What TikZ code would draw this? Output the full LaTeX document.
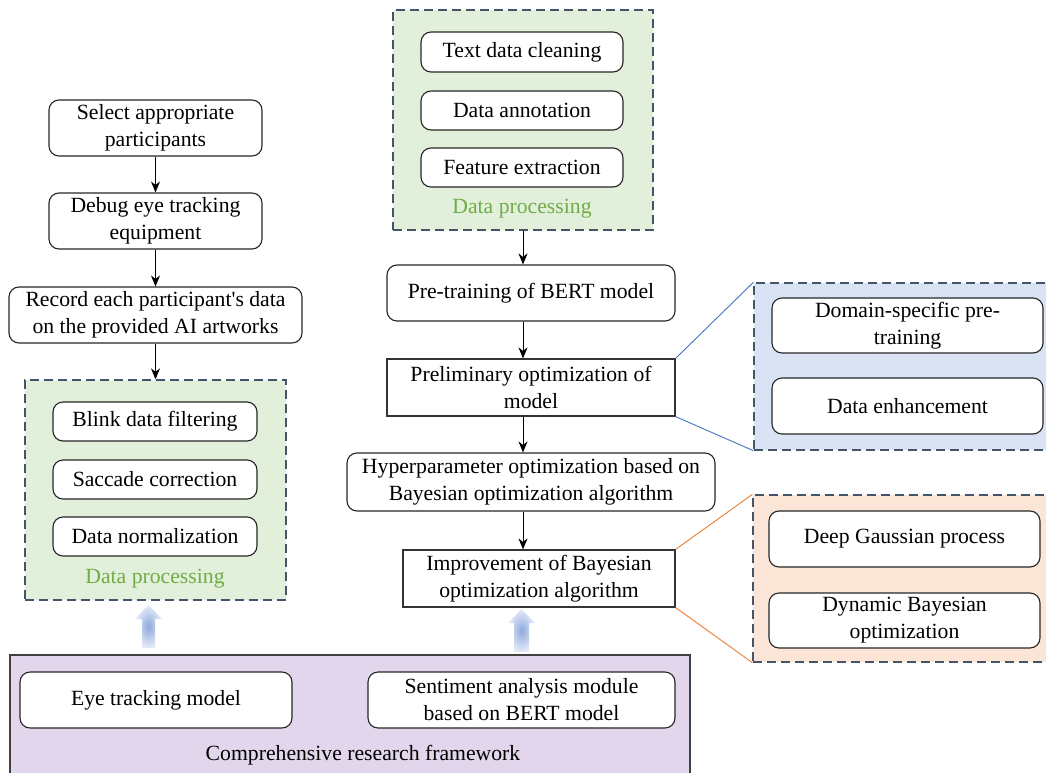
\documentclass[tikz,border=0pt]{standalone}
\usepackage{fontspec}
\setmainfont{Liberation Serif}
\usetikzlibrary{arrows.meta,shadings}
\definecolor{greenfill}{HTML}{E2EFDA}
\definecolor{greentext}{HTML}{70AD47}
\definecolor{dashcol}{HTML}{44546A}
\definecolor{bluefill}{HTML}{DAE3F3}
\definecolor{orangefill}{HTML}{FBE5D6}
\definecolor{lavfill}{HTML}{E2D6EC}
\definecolor{blueline}{HTML}{4472C4}
\definecolor{orangeline}{HTML}{ED7D31}
\definecolor{arrowin}{HTML}{8FAADC}
\definecolor{arrowout}{HTML}{E4EAF8}
\begin{document}
\begin{tikzpicture}[x=1pt,y=-1pt,
  font=\fontsize{21.7}{27}\selectfont,
  box/.style={draw=black!85, line width=1.1pt, fill=white, rounded corners=10pt, align=center, inner sep=0pt},
  sbox/.style={draw=black!80, line width=1.2pt, fill=white, align=center, inner sep=0pt},
  panel/.style={draw=dashcol, dash pattern=on 9pt off 5pt, line width=1.3pt, inner sep=0pt},
  conn/.style={-{Stealth[length=11pt,width=9pt]}, line width=0.9pt},
  lbl/.style={text=greentext, inner sep=0pt},
  blockarrow/.style={inner color=arrowin, outer color=arrowout, draw=none},
]
\useasboundingbox (0,0) rectangle (1046,773);

% ---------- left column ----------
\node[box, minimum width=213, minimum height=56] (sel) at (155.5,128) {Select appropriate\\participants};
\node[box, minimum width=213, minimum height=56] (dbg) at (155.5,221) {Debug eye tracking\\equipment};
\node[box, minimum width=293, minimum height=56] (rec) at (155.5,315) {Record each participant\textquotesingle s data\\on the provided AI artworks};

\node[panel, fill=greenfill, minimum width=261, minimum height=220] (lp) at (155.5,490) {};
\node[box, minimum width=204, minimum height=39] (blink) at (155,421.5) {Blink data filtering};
\node[box, minimum width=204, minimum height=39] (sacc) at (155,479.5) {Saccade correction};
\node[box, minimum width=204, minimum height=39] (norm) at (155,536.5) {Data normalization};
\node[lbl] (lpl) at (155,579) {Data processing};

\draw[conn] (sel) -- (dbg);
\draw[conn] (dbg) -- (rec);
\draw[conn] (rec) -- (lp);

% ---------- middle column ----------
\node[panel, fill=greenfill, minimum width=260, minimum height=220] (tp) at (523,120) {};
\node[box, minimum width=202, minimum height=40] (clean) at (522,52) {Text data cleaning};
\node[box, minimum width=202, minimum height=39] (annot) at (522,110.5) {Data annotation};
\node[box, minimum width=202, minimum height=39] (feat) at (522,167.5) {Feature extraction};
\node[lbl] (tpl) at (522,209) {Data processing};

\node[box, minimum width=288, minimum height=56] (pre) at (531,293) {Pre-training of BERT model};
\node[sbox, minimum width=288, minimum height=57] (prelim) at (531,387.5) {Preliminary optimization of\\model};
\node[box, minimum width=368, minimum height=58] (hyper) at (531,482) {Hyperparameter optimization based on\\Bayesian optimization algorithm};
\node[sbox, minimum width=272, minimum height=57] (impr) at (539,578.5) {Improvement of Bayesian\\optimization algorithm};

\coordinate (ax) at (523,0);
\draw[conn] (tp.south) -- (pre.north -| tp.south);
\draw[conn] (pre.south -| ax) -- (prelim.north -| ax);
\draw[conn] (prelim.south -| ax) -- (hyper.north -| ax);
\draw[conn] (hyper.south -| ax) -- (impr.north -| ax);

% ---------- right panels ----------
\node[panel, fill=bluefill, minimum width=300, minimum height=167] (bp) at (904,366.5) {};
\node[box, minimum width=271, minimum height=55] (dom) at (907.5,325.5) {Domain-specific pre-\\training};
\node[box, minimum width=271, minimum height=56] (enh) at (907.5,406) {Data enhancement};

\node[panel, fill=orangefill, minimum width=300, minimum height=167] (op) at (903,578.5) {};
\node[box, minimum width=271, minimum height=56] (deep) at (904.5,539) {Deep Gaussian process};
\node[box, minimum width=271, minimum height=55] (dyn) at (904.5,620.5) {Dynamic Bayesian\\optimization};

\draw[blueline, line width=0.9pt] (prelim.north east) -- (bp.north west);
\draw[blueline, line width=0.9pt] (prelim.south east) -- (bp.south west);
\draw[orangeline, line width=0.9pt] (impr.north east) -- (op.north west);
\draw[orangeline, line width=0.9pt] (impr.south east) -- (op.south west);

% ---------- bottom framework ----------
\node[draw=black!75, line width=1.3pt, fill=lavfill, minimum width=680, minimum height=140, inner sep=0pt] (fw) at (350,725) {};
\node[box, minimum width=272, minimum height=56] (eye) at (156,700) {Eye tracking model};
\node[box, minimum width=307, minimum height=56] (sent) at (521.5,700) {Sentiment analysis module\\based on BERT model};
\node[inner sep=0pt] (fwl) at (363,755) {Comprehensive research framework};

% ---------- block arrows ----------
\shade[blockarrow] (148.5,605) -- (162,619) -- (155,619) -- (155,648) -- (142,648) -- (142,619) -- (135,619) -- cycle;
\shade[blockarrow] (521.5,609) -- (535,623) -- (529,623) -- (529,652) -- (514,652) -- (514,623) -- (508,623) -- cycle;
\end{tikzpicture}
\end{document}
